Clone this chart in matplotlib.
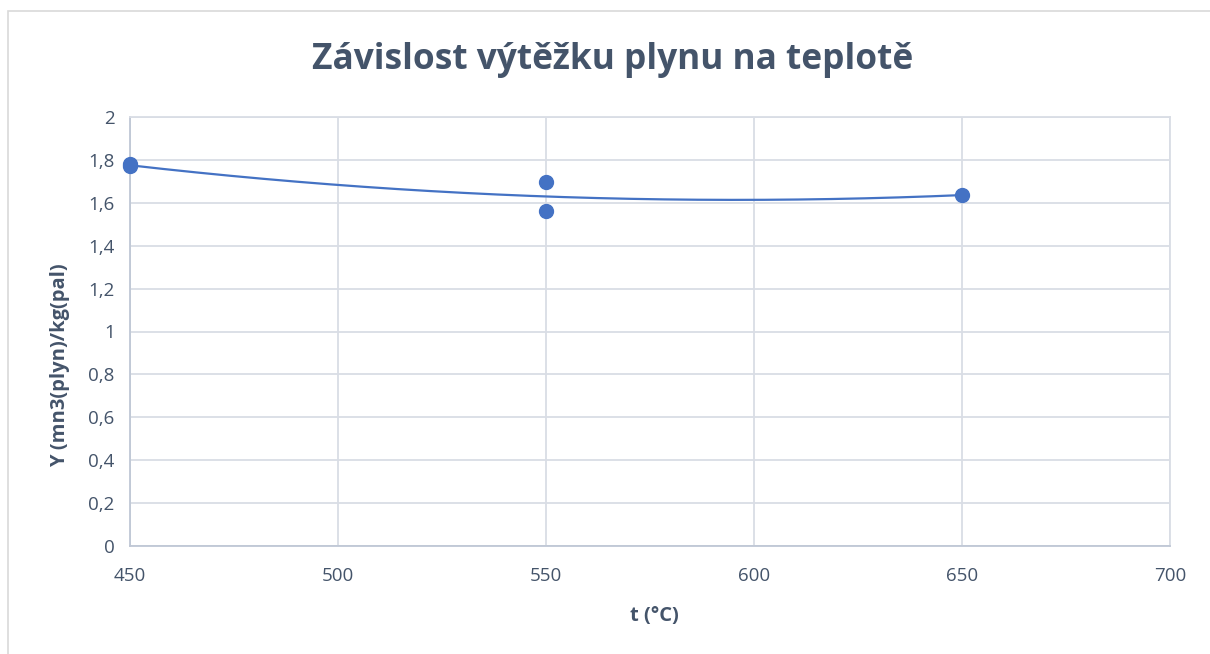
import numpy as np
import matplotlib
matplotlib.use("Agg")
import matplotlib.pyplot as plt
from matplotlib.patches import Rectangle
from matplotlib.ticker import FuncFormatter

# Data
temps = [450, 450, 550, 550, 650]
yields = [1.78, 1.77, 1.697, 1.562, 1.636]
x_ticks = [450, 500, 550, 600, 650, 700]
y_ticks = [0, 0.2, 0.4, 0.6, 0.8, 1.0, 1.2, 1.4, 1.6, 1.8, 2.0]
title = "Závislost výtěžku plynu na teplotě"
xlabel = "t (°C)"
ylabel = "Y (mn3(plyn)/kg(pal)"

plt.rcParams['font.family'] = ['Open Sans', 'DejaVu Sans']
text_col = '#44546A'
grid_col = '#D9DDE5'
blue = '#4472C4'

fig = plt.figure(figsize=(12.1, 6.54), dpi=100)
fig.patches.append(Rectangle((8/1210, -0.1), 1.2, 1 - 11/654 + 0.1, transform=fig.transFigure,
                             fill=False, edgecolor='#D9D9D9', linewidth=1.2))
ax = fig.add_axes([130/1210, 1 - 546/654, (1170-130)/1210, (546-117)/654])

# trendline (2nd order polynomial fit, as Excel)
coef = np.polyfit(temps, yields, 2)
xs = np.linspace(min(temps), max(temps), 300)
ax.plot(xs, np.polyval(coef, xs), color=blue, lw=1.6, zorder=3)
ax.plot(temps, yields, 'o', color=blue, markersize=10, zorder=4, clip_on=False)

ax.set_xlim(450, 700)
ax.set_ylim(0, 2)
ax.set_xticks(x_ticks)
ax.set_yticks(y_ticks)
ax.yaxis.set_major_formatter(FuncFormatter(lambda v, p: f"{v:g}".replace('.', ',')))
ax.grid(True, color=grid_col, lw=1.3)
ax.set_axisbelow(True)
for s in ['top', 'right']:
    ax.spines[s].set_color(grid_col)
    ax.spines[s].set_linewidth(1.3)
ax.spines['left'].set_color('#BFC7D5')
ax.spines['bottom'].set_color('#BFC7D5')
ax.spines['left'].set_linewidth(1.3)
ax.spines['bottom'].set_linewidth(1.3)
ax.tick_params(length=0, labelsize=13.5, colors=text_col, labelcolor=text_col)
ax.tick_params(axis='x', pad=15)
ax.tick_params(axis='y', pad=11)

fig.text(613/1210, 1 - 60/654, title, ha='center', va='center', fontsize=25.4,
         fontweight='bold', color=text_col)
fig.text(654/1210, 1 - 616/654, xlabel, ha='center', va='center', fontsize=14.5,
         fontweight='bold', color=text_col)
fig.text(60/1210, 1 - 365/654, ylabel, ha='center', va='center', fontsize=14.5,
         fontweight='bold', color=text_col, rotation=90)

fig.savefig('out.png', dpi=100)
